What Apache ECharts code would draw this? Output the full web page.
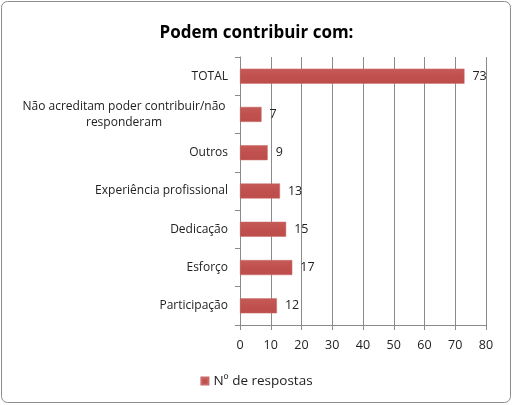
<!DOCTYPE html>
<html><head><meta charset="utf-8">
<script src="https://cdn.jsdelivr.net/npm/echarts@6/dist/echarts.min.js"></script>
<style>html,body{margin:0;padding:0;background:#fff}#c{width:513px;height:405px}</style>
</head><body><div id="c"></div>
<script>
var categories = ['Participação','Esforço','Dedicação','Experiência profissional','Outros','Não acreditam poder contribuir/não\nresponderam','TOTAL'];
var values = [12,17,15,13,9,7,73];
var seriesName = 'Nº de respostas';
var xTicks = [0,10,20,30,40,50,60,70,80];

var chart = echarts.init(document.getElementById('c'), null, {renderer:'canvas'});
var font = 'Open Sans';
chart.setOption({
  animation:false,
  backgroundColor:'#fff',
  graphic:[{type:'rect',shape:{x:1.5,y:1.5,width:509,height:401,r:6},style:{fill:'none',stroke:'#8c8c8c',lineWidth:1},silent:true}],
  title:{text:'Podem contribuir com:',left:'center',top:20,textStyle:{fontFamily:font,fontWeight:'bold',fontSize:17,color:'#000'}},
  legend:{bottom:12,left:'center',icon:'rect',itemWidth:7,itemHeight:7,itemGap:6,textStyle:{fontFamily:font,fontSize:13.5,color:'#222'},data:[seriesName]},
  grid:{left:240,right:27,top:57,bottom:80,containLabel:false},
  xAxis:{type:'value',min:0,max:80,interval:10,
    axisLine:{show:true,lineStyle:{color:'#8a8a8a'}},
    axisTick:{show:true,length:5,lineStyle:{color:'#8a8a8a'}},
    splitLine:{show:true,lineStyle:{color:'#8a8a8a'}},
    axisLabel:{fontFamily:font,fontSize:12.5,color:'#222',margin:14,formatter:function(v){return xTicks.indexOf(v)>=0?String(v):'';}}},
  yAxis:{type:'category',data:categories,
    axisLine:{show:true,lineStyle:{color:'#8a8a8a'}},
    axisTick:{show:true,length:5,alignWithLabel:false,lineStyle:{color:'#8a8a8a'}},
    axisLabel:{fontFamily:font,fontSize:12,color:'#222',margin:12,lineHeight:16,
      formatter:function(v){ if(v.indexOf('\n')>=0){ return v.split('\n').map(function(s){return '{c|'+s+'}';}).join('\n'); } return v; },
      rich:{c:{fontFamily:font,fontSize:12,color:'#222',width:208,align:'center',lineHeight:16}}}},
  series:[{name:seriesName,type:'bar',data:values,barWidth:15,
    itemStyle:{color:new echarts.graphic.LinearGradient(0,0,0,1,[{offset:0,color:'#c55b58'},{offset:0.5,color:'#c0504d'},{offset:1,color:'#bc4d4a'}]),borderColor:'#c86a67',borderWidth:0.5},
    label:{show:true,position:'right',distance:8,fontFamily:font,fontSize:12.5,color:'#222'}}]
});
</script></body></html>
